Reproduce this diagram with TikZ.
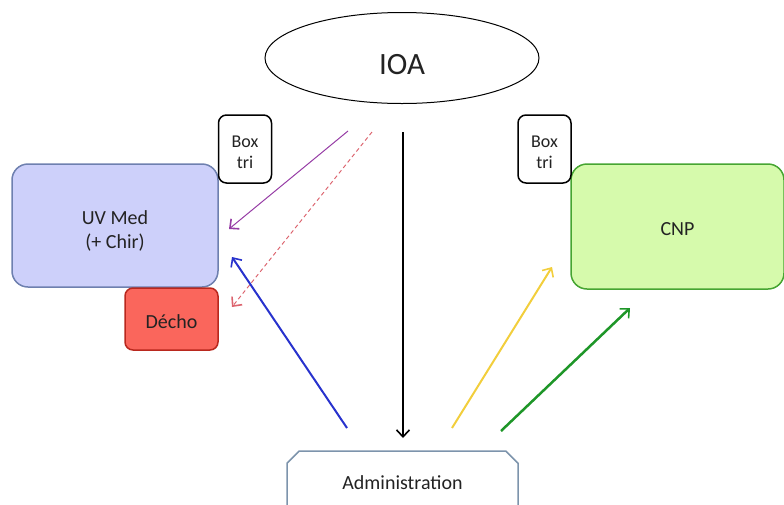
\documentclass[tikz,border=0pt]{standalone}
\usepackage{fontspec}
\setmainfont{Carlito}
\usepackage{tikz}
\usetikzlibrary{arrows.meta, positioning, calc, shapes.geometric, shapes.misc}
\usepackage{xcolor}
\definecolor{uvfill}{RGB}{205,208,250}
\definecolor{uvline}{RGB}{110,128,175}
\definecolor{dechofill}{RGB}{250,102,92}
\definecolor{decholine}{RGB}{185,40,30}
\definecolor{cnpfill}{RGB}{214,250,172}
\definecolor{cnpline}{RGB}{70,165,50}
\definecolor{adminline}{RGB}{125,148,172}
\definecolor{txtgray}{RGB}{35,35,35}
\definecolor{arpurple}{RGB}{150,60,165}
\definecolor{arpink}{RGB}{220,100,110}
\definecolor{arblue}{RGB}{40,50,205}
\definecolor{aryellow}{RGB}{242,206,60}
\definecolor{argreen}{RGB}{30,150,40}

\begin{document}
\begin{tikzpicture}[x=1pt, y=-1pt,
  unit/.style={draw, line width=1.5pt, rounded corners=16pt, inner sep=0pt},
  lbl/.style={text=txtgray, font=\fontsize{20}{24}\selectfont, align=center, inner sep=0pt},
  tribox/.style={draw, line width=1.5pt, rounded corners=8pt, fill=white,
    minimum width=53pt, minimum height=68pt, inner sep=0pt},
  flow/.style={-{Straight Barb[length=7pt, width=13pt, line width=1.6pt]}}]
  \useasboundingbox (0,0) rectangle (784,504);
  % IOA (top)
  \node[ellipse, draw, line width=1pt, minimum width=274pt, minimum height=91pt] (ioa) at (402,58) {};
  \node[lbl, font=\fontsize{31}{36}\selectfont] (ioatxt) at ($(ioa)+(0,7)$) {IOA};
  % units
  \node[unit, fill=uvfill, draw=uvline, minimum width=206pt, minimum height=123pt]
    (uvmed) at (115,225.5) {};
  \node[lbl] (uvtxt) at ($(uvmed)+(0,5)$) {UV Med\\(+ Chir)};
  \node[unit, fill=dechofill, draw=decholine, rounded corners=8pt,
    minimum width=93pt, minimum height=62pt] (decho) at (171.5,319) {};
  \node[lbl] (dechotxt) at ($(decho)+(0,3)$) {Décho};
  \node[unit, fill=cnpfill, draw=cnpline, minimum width=213pt, minimum height=125pt]
    (cnp) at (677.5,226.5) {};
  \node[lbl] (cnptxt) at ($(cnp)+(0,3)$) {CNP};
  % Box tri
  \node[tribox] (trileft) at (245,149) {};
  \node[lbl, font=\fontsize{18}{21}\selectfont] at ($(trileft)+(0,3)$) {Box\\tri};
  \node[tribox] (triright) at (544.5,149) {};
  \node[lbl, font=\fontsize{18}{21}\selectfont] at ($(triright)+(0,3)$) {Box\\tri};
  % Administration (bottom)
  \node[chamfered rectangle, chamfered rectangle corners={north west, north east},
    chamfered rectangle xsep=10pt, draw=adminline, line width=1.5pt, fill=white,
    minimum width=231pt, minimum height=64pt, inner sep=2pt, text=txtgray,
    font=\fontsize{20}{24}\selectfont] (admin) at (402.5,483) {Administration};
  % arrow ends
  \coordinate (purpleS) at (348,131);
  \coordinate (purpleE) at (229,229);
  \coordinate (pinkS) at (372,132);
  \coordinate (pinkE) at (232,307);
  \coordinate (blackS) at (403,132);
  \coordinate (blackE) at (403,438);
  \coordinate (blueS) at (347,428);
  \coordinate (blueE) at (232,257);
  \coordinate (yellowS) at (452,428);
  \coordinate (yellowE) at (552,267);
  \coordinate (greenS) at (501,431);
  \coordinate (greenE) at (630,308);
  % arrows
  \draw[flow, arpurple, line width=1pt] (purpleS) -- (purpleE);
  \draw[flow, arpink, line width=1pt, dash pattern=on 4pt off 3pt] (pinkS) -- (pinkE);
  \draw[flow, black, line width=2.5pt] (blackS) -- (blackE);
  \draw[flow, arblue, line width=2pt] (blueS) -- (blueE);
  \draw[flow, aryellow, line width=2pt] (yellowS) -- (yellowE);
  \draw[flow, argreen, line width=2.5pt] (greenS) -- (greenE);
\end{tikzpicture}
\end{document}
